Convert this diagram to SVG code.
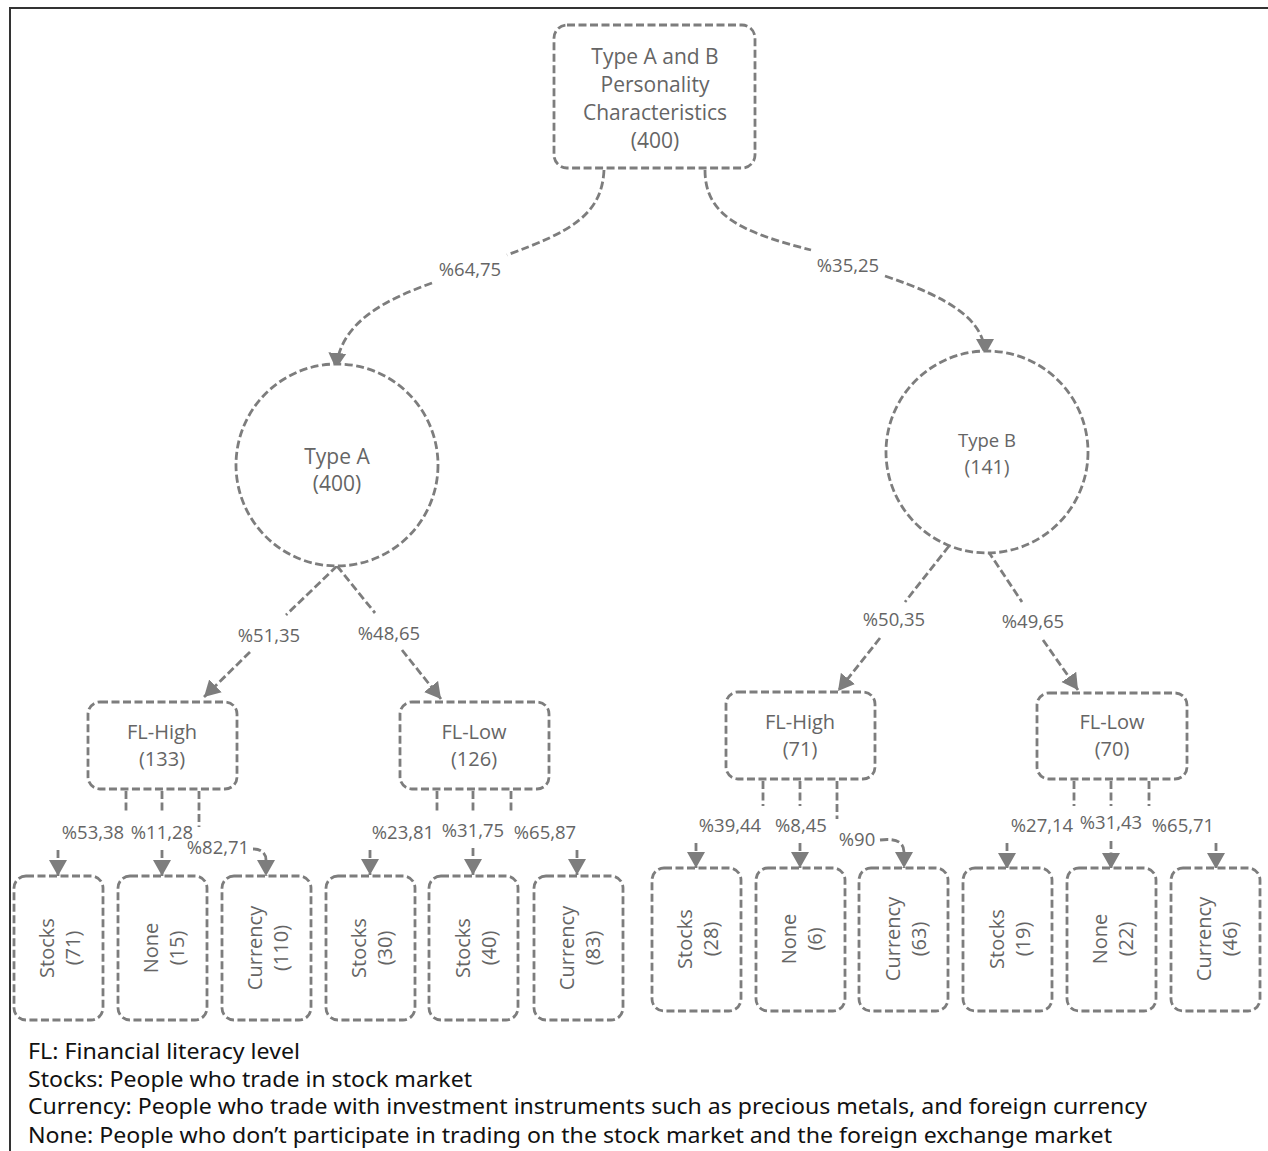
<svg xmlns="http://www.w3.org/2000/svg" width="1268" height="1151" viewBox="0 0 1268 1151">
<defs>
<style>
.box{fill:#fff;stroke:#7d7d7d;stroke-width:2.8;stroke-dasharray:8 3.5}
.c{fill:none;stroke:#7d7d7d;stroke-width:2.8;stroke-dasharray:8 3.5}
.t{font-family:"Open Sans","Noto Sans",sans-serif;fill:#656565;text-anchor:middle}
.n{font-size:21px}
.l{font-size:18.5px}
.lf{font-size:20px}
.lg{font-family:"Noto Sans","Open Sans",sans-serif;font-size:21px;fill:#111}
</style>
<marker id="ah" markerUnits="userSpaceOnUse" markerWidth="20" markerHeight="20" viewBox="0 0 20 20" refX="16" refY="10" orient="auto">
<path d="M0,1 L16,10 L0,19 Z" fill="#7d7d7d"/>
</marker>
</defs>
<rect width="1268" height="1151" fill="#fff"/>
<path d="M10,1151 L10,8 L1268,8" fill="none" stroke="#333" stroke-width="2"/>

<g id="connectors">
<path class="c" d="M604,170 C602,215 570,232 507,255"/>
<path class="c" d="M432,283 C385,300 340,322 336,369" marker-end="url(#ah)"/>
<path class="c" d="M705,170 C705,215 740,232 811,250"/>
<path class="c" d="M885,276 C950,298 985,320 985,355" marker-end="url(#ah)"/>
<path class="c" d="M337,566 L286,615"/>
<path class="c" d="M250,652 L204,697" marker-end="url(#ah)"/>
<path class="c" d="M337,566 L375,613"/>
<path class="c" d="M402,650 L441,699" marker-end="url(#ah)"/>
<path class="c" d="M949,546 L905,602"/>
<path class="c" d="M880,638 L838,691" marker-end="url(#ah)"/>
<path class="c" d="M988,551 L1022,602"/>
<path class="c" d="M1043,640 L1078,690" marker-end="url(#ah)"/>

<path class="c" d="M126,791 L126,813"/>
<path class="c" d="M58,850 L58,876" marker-end="url(#ah)"/>
<path class="c" d="M162,791 L162,813"/>
<path class="c" d="M162,850 L162,876" marker-end="url(#ah)"/>
<path class="c" d="M199,791 L199,827"/>
<path class="c" d="M253,849 C262,849 266,854 266,860 L266,876" marker-end="url(#ah)"/>

<path class="c" d="M437,791 L437,813"/>
<path class="c" d="M370,850 L370,875" marker-end="url(#ah)"/>
<path class="c" d="M473,791 L473,813"/>
<path class="c" d="M473,848 L473,875" marker-end="url(#ah)"/>
<path class="c" d="M511,791 L511,813"/>
<path class="c" d="M577,850 L577,875" marker-end="url(#ah)"/>

<path class="c" d="M763,781 L763,806"/>
<path class="c" d="M696,843 L696,868" marker-end="url(#ah)"/>
<path class="c" d="M800,781 L800,806"/>
<path class="c" d="M800,843 L800,868" marker-end="url(#ah)"/>
<path class="c" d="M837,781 L837,819"/>
<path class="c" d="M880,840 C896,838 904,842 904,852 L904,868" marker-end="url(#ah)"/>

<path class="c" d="M1074,781 L1074,806"/>
<path class="c" d="M1007,843 L1007,869" marker-end="url(#ah)"/>
<path class="c" d="M1111,781 L1111,806"/>
<path class="c" d="M1111,841 L1111,869" marker-end="url(#ah)"/>
<path class="c" d="M1149,781 L1149,806"/>
<path class="c" d="M1216,843 L1216,869" marker-end="url(#ah)"/>
</g>

<g id="edge-labels" class="t l">
<text x="470" y="276">%64,75</text>
<text x="848" y="272">%35,25</text>
<text x="269" y="642">%51,35</text>
<text x="389" y="640">%48,65</text>
<text x="894" y="626">%50,35</text>
<text x="1033" y="628">%49,65</text>
<text x="93" y="839">%53,38</text>
<text x="162" y="839">%11,28</text>
<text x="218" y="854">%82,71</text>
<text x="403" y="839">%23,81</text>
<text x="473" y="837">%31,75</text>
<text x="545" y="839">%65,87</text>
<text x="730" y="832">%39,44</text>
<text x="801" y="832">%8,45</text>
<text x="857" y="846">%90</text>
<text x="1042" y="832">%27,14</text>
<text x="1111" y="829">%31,43</text>
<text x="1183" y="832">%65,71</text>
</g>

<g id="root">
<rect class="box" x="554" y="25" width="201" height="143" rx="13"/>
<text class="t n" x="655" y="64">Type A and B</text>
<text class="t n" x="655" y="92">Personality</text>
<text class="t n" x="655" y="120">Characteristics</text>
<text class="t n" x="655" y="148">(400)</text>
</g>

<g id="typeA">
<circle class="box" cx="337" cy="465" r="101"/>
<text class="t n" x="337" y="464">Type A</text>
<text class="t n" x="337" y="491">(400)</text>
</g>
<g id="typeB">
<circle class="box" cx="987" cy="452" r="101"/>
<text class="t" style="font-size:18.5px" x="987" y="447">Type B</text>
<text class="t" style="font-size:19.5px" x="987" y="474">(141)</text>
</g>

<g id="flhighA">
<rect class="box" x="88" y="702" width="149" height="87" rx="12"/>
<text class="t lf" x="162" y="739">FL-High</text>
<text class="t lf" x="162" y="766">(133)</text>
</g>
<g id="fllowA">
<rect class="box" x="400" y="702" width="149" height="87" rx="12"/>
<text class="t lf" x="474" y="739">FL-Low</text>
<text class="t lf" x="474" y="766">(126)</text>
</g>
<g id="flhighB">
<rect class="box" x="726" y="692" width="149" height="87" rx="12"/>
<text class="t lf" x="800" y="729">FL-High</text>
<text class="t lf" x="800" y="756">(71)</text>
</g>
<g id="fllowB">
<rect class="box" x="1037" y="693" width="150" height="86" rx="12"/>
<text class="t lf" x="1112" y="729">FL-Low</text>
<text class="t lf" x="1112" y="756">(70)</text>
</g>

<g id="leafA1">
<rect class="box" x="14" y="876" width="89" height="144" rx="12"/>
<g transform="translate(58,948) rotate(-90)"><text class="t lf" x="0" y="-4">Stocks</text><text class="t lf" x="0" y="22">(71)</text></g>
</g>
<g id="leafA2">
<rect class="box" x="118" y="876" width="89" height="144" rx="12"/>
<g transform="translate(162,948) rotate(-90)"><text class="t lf" x="0" y="-4">None</text><text class="t lf" x="0" y="22">(15)</text></g>
</g>
<g id="leafA3">
<rect class="box" x="222" y="876" width="89" height="144" rx="12"/>
<g transform="translate(266,948) rotate(-90)"><text class="t lf" x="0" y="-4">Currency</text><text class="t lf" x="0" y="22">(110)</text></g>
</g>
<g id="leafA4">
<rect class="box" x="326" y="876" width="89" height="144" rx="12"/>
<g transform="translate(370,948) rotate(-90)"><text class="t lf" x="0" y="-4">Stocks</text><text class="t lf" x="0" y="22">(30)</text></g>
</g>
<g id="leafA5">
<rect class="box" x="429" y="876" width="89" height="144" rx="12"/>
<g transform="translate(474,948) rotate(-90)"><text class="t lf" x="0" y="-4">Stocks</text><text class="t lf" x="0" y="22">(40)</text></g>
</g>
<g id="leafA6">
<rect class="box" x="534" y="876" width="89" height="144" rx="12"/>
<g transform="translate(578,948) rotate(-90)"><text class="t lf" x="0" y="-4">Currency</text><text class="t lf" x="0" y="22">(83)</text></g>
</g>

<g id="leafB1">
<rect class="box" x="652" y="868" width="89" height="143" rx="12"/>
<g transform="translate(696,939) rotate(-90)"><text class="t lf" x="0" y="-4">Stocks</text><text class="t lf" x="0" y="22">(28)</text></g>
</g>
<g id="leafB2">
<rect class="box" x="756" y="868" width="89" height="143" rx="12"/>
<g transform="translate(800,939) rotate(-90)"><text class="t lf" x="0" y="-4">None</text><text class="t lf" x="0" y="22">(6)</text></g>
</g>
<g id="leafB3">
<rect class="box" x="859" y="868" width="89" height="143" rx="12"/>
<g transform="translate(904,939) rotate(-90)"><text class="t lf" x="0" y="-4">Currency</text><text class="t lf" x="0" y="22">(63)</text></g>
</g>
<g id="leafB4">
<rect class="box" x="963" y="868" width="89" height="143" rx="12"/>
<g transform="translate(1008,939) rotate(-90)"><text class="t lf" x="0" y="-4">Stocks</text><text class="t lf" x="0" y="22">(19)</text></g>
</g>
<g id="leafB5">
<rect class="box" x="1067" y="868" width="89" height="143" rx="12"/>
<g transform="translate(1111,939) rotate(-90)"><text class="t lf" x="0" y="-4">None</text><text class="t lf" x="0" y="22">(22)</text></g>
</g>
<g id="leafB6">
<rect class="box" x="1171" y="868" width="89" height="143" rx="12"/>
<g transform="translate(1215,939) rotate(-90)"><text class="t lf" x="0" y="-4">Currency</text><text class="t lf" x="0" y="22">(46)</text></g>
</g>

<g id="legend">
<text class="lg" x="28" y="1059" textLength="272" lengthAdjust="spacingAndGlyphs">FL: Financial literacy level</text>
<text class="lg" x="28" y="1087" textLength="444" lengthAdjust="spacingAndGlyphs">Stocks: People who trade in stock market</text>
<text class="lg" x="28" y="1114" textLength="1119" lengthAdjust="spacingAndGlyphs">Currency: People who trade with investment instruments such as precious metals, and foreign currency</text>
<text class="lg" x="28" y="1143" textLength="1084" lengthAdjust="spacingAndGlyphs">None: People who don’t participate in trading on the stock market and the foreign exchange market</text>
</g>
</svg>
